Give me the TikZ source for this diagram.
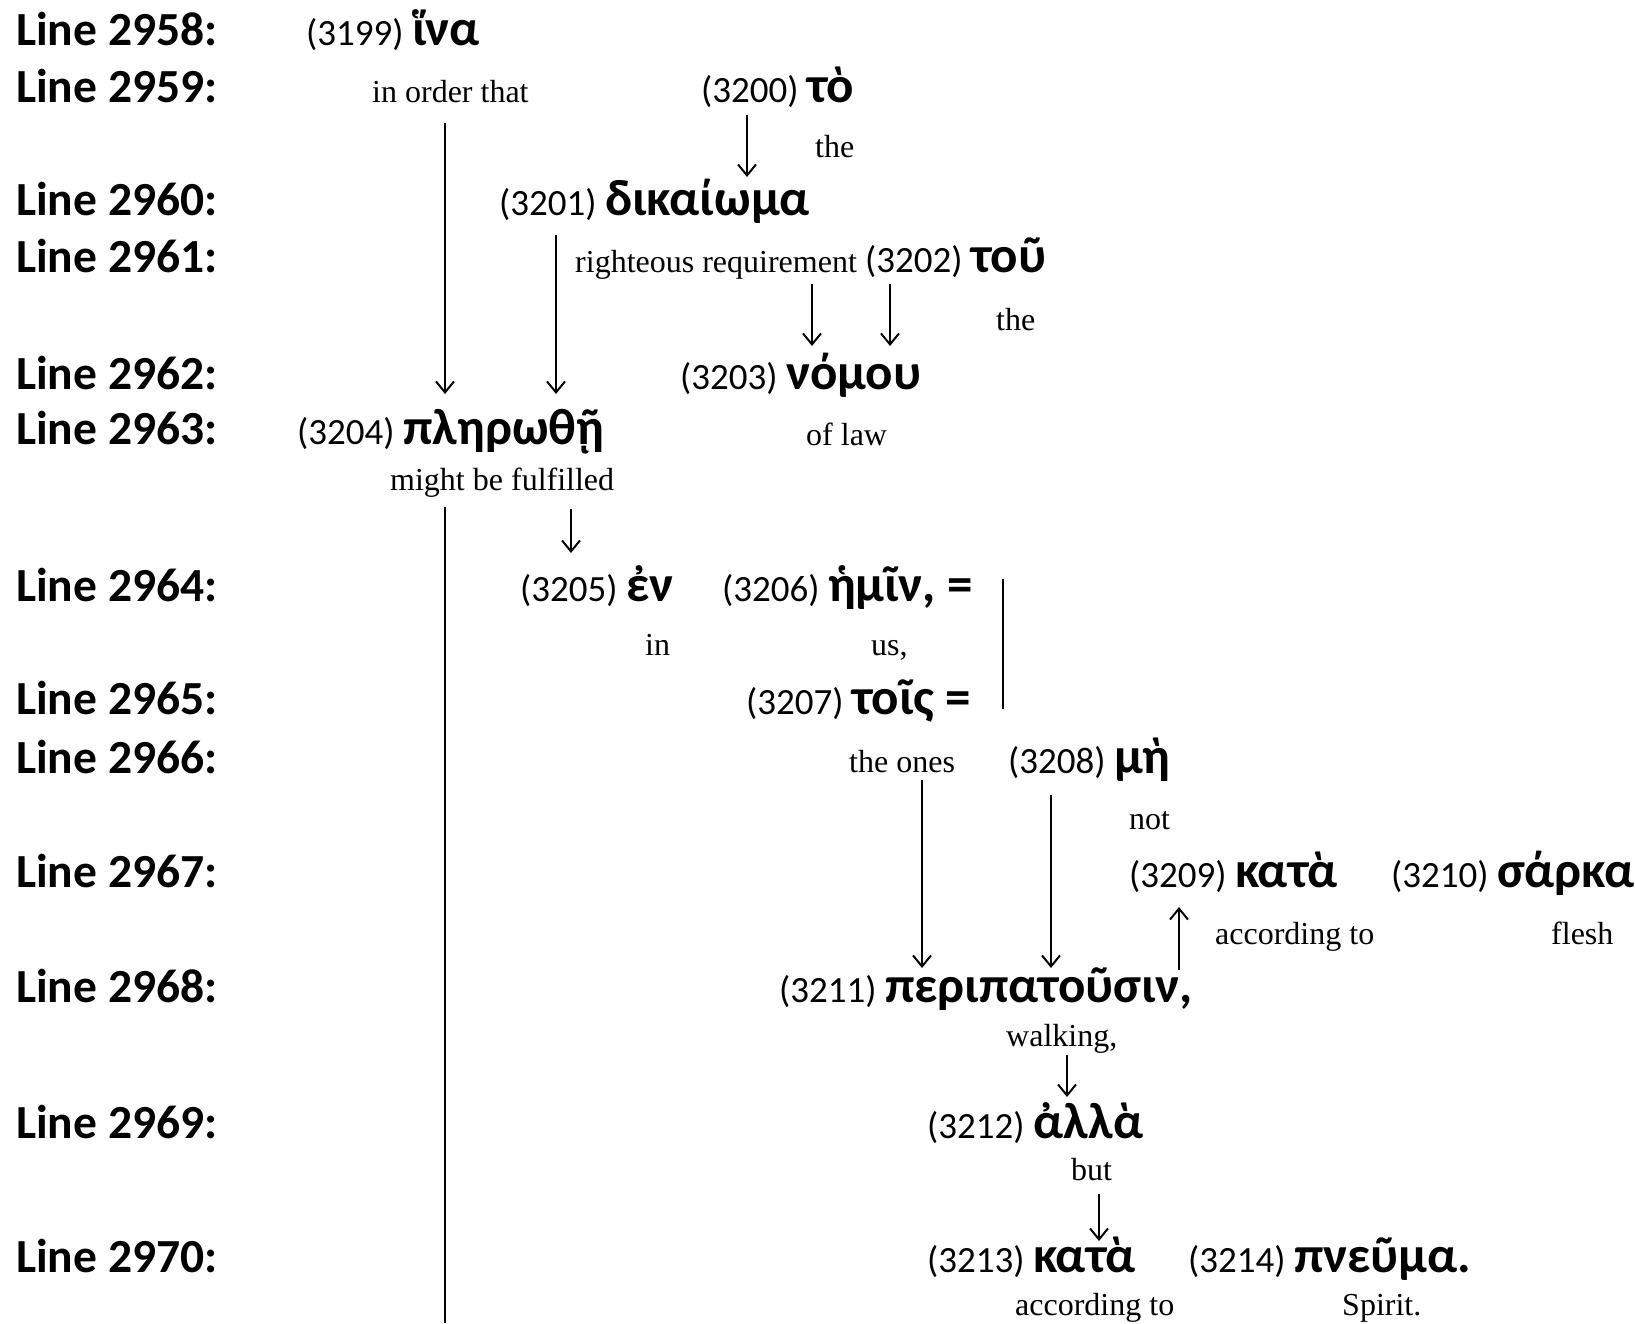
\documentclass[tikz,border=0pt]{standalone}
\usepackage{fontspec}
\setmainfont{Liberation Serif}
\newfontfamily\calib{Carlito}
\usetikzlibrary{arrows.meta}
\newcommand\grkw[1]{{\bfseries\fontsize{51}{54}\selectfont #1}}
\begin{document}
\begin{tikzpicture}[x=1pt,y=-1pt,
  lbl/.style={anchor=base west,inner sep=0pt,font=\calib\bfseries\fontsize{47.5}{50}\selectfont},
  wd/.style={anchor=base west,inner sep=0pt,font=\calib\fontsize{37}{40}\selectfont},
  gl/.style={anchor=base west,inner sep=0pt,font=\fontsize{32}{36}\selectfont},
  arr/.style={line width=2pt,-{Straight Barb[length=11pt,width=18pt,line width=2pt]}},
  ln/.style={line width=2pt}]
\useasboundingbox (0,0) rectangle (1635,1323);
% line labels
\node[lbl] (L1) at (16,45) {Line 2958:};
\node[lbl] (L2) at (16,102) {Line 2959:};
\node[lbl] (L3) at (16,215) {Line 2960:};
\node[lbl] (L4) at (16,272) {Line 2961:};
\node[lbl] (L5) at (16,389) {Line 2962:};
\node[lbl] (L6) at (16,444) {Line 2963:};
\node[lbl] (L7) at (16,601) {Line 2964:};
\node[lbl] (L8) at (16,714) {Line 2965:};
\node[lbl] (L9) at (16,773) {Line 2966:};
\node[lbl] (L10) at (16,887) {Line 2967:};
\node[lbl] (L11) at (16,1002) {Line 2968:};
\node[lbl] (L12) at (16,1138) {Line 2969:};
\node[lbl] (L13) at (16,1272) {Line 2970:};
% words and glosses
\node[wd] (w3199) at (306,45) {(3199) \grkw{ἵνα}};
\node[gl] (g3199) at (372,102) {in order that};
\node[wd] (w3200) at (701,102) {(3200) \grkw{τὸ}};
\node[gl] (g3200) at (815,157) {the};
\node[wd] (w3201) at (499,215) {(3201) \grkw{δικαίωμα}};
\node[gl] (g3201) at (575,272) {righteous requirement};
\node[wd] (w3202) at (865,272) {(3202) \grkw{τοῦ}};
\node[gl] (g3202) at (996,330) {the};
\node[wd] (w3203) at (680,389) {(3203) \grkw{νόμου}};
\node[gl] (g3203) at (806,445) {of law};
\node[wd] (w3204) at (297,444) {(3204) \grkw{πληρωθῇ}};
\node[gl] (g3204) at (390,490) {might be fulfilled};
\node[wd] (w3205) at (520,601) {(3205) \grkw{ἐν}};
\node[gl] (g3205) at (645,655) {in};
\node[wd] (w3206) at (722,601) {(3206) \grkw{ἡμῖν, =}};
\node[gl] (g3206) at (871,655) {us,};
\node[wd] (w3207) at (746,714) {(3207) \grkw{τοῖς =}};
\node[gl] (g3207) at (849,772) {the ones};
\node[wd] (w3208) at (1008,773) {(3208) \grkw{μὴ}};
\node[gl] (g3208) at (1129,829) {not};
\node[wd] (w3209) at (1129,887) {(3209) \grkw{κατὰ}};
\node[gl] (g3209) at (1215,944) {according to};
\node[wd] (w3210) at (1391,887) {(3210) \grkw{σάρκα}};
\node[gl] (g3210) at (1551,944) {flesh};
\node[wd] (w3211) at (779,1002) {(3211) \grkw{περιπατοῦσιν,}};
\node[gl] (g3211) at (1006,1046) {walking,};
\node[wd] (w3212) at (927,1138) {(3212) \grkw{ἀλλὰ}};
\node[gl] (g3212) at (1071,1180) {but};
\node[wd] (w3213) at (927,1272) {(3213) \grkw{κατὰ}};
\node[gl] (g3213) at (1015,1315) {according to};
\node[wd] (w3214) at (1188,1272) {(3214) \grkw{πνεῦμα.}};
\node[gl] (g3214) at (1342,1315) {Spirit.};
% connector ends
\coordinate (a1s) at (445,123);  \coordinate (a1e) at (445,394);
\coordinate (a2s) at (747,115);  \coordinate (a2e) at (747,177);
\coordinate (a3s) at (556,235);  \coordinate (a3e) at (556,394);
\coordinate (a4s) at (812,284);  \coordinate (a4e) at (812,346);
\coordinate (a5s) at (890,284);  \coordinate (a5e) at (890,346);
\coordinate (a6s) at (571,509);  \coordinate (a6e) at (571,553);
\coordinate (l1s) at (445,507);  \coordinate (l1e) at (445,1323);
\coordinate (l2s) at (1003,579); \coordinate (l2e) at (1003,709);
\coordinate (a7s) at (922,780);  \coordinate (a7e) at (922,968);
\coordinate (a8s) at (1051,795); \coordinate (a8e) at (1051,968);
\coordinate (a9s) at (1179,970); \coordinate (a9e) at (1179,907);
\coordinate (a10s) at (1067,1055); \coordinate (a10e) at (1067,1097);
\coordinate (a11s) at (1099,1194); \coordinate (a11e) at (1099,1241);
\draw[arr] (a1s) -- (a1e);
\draw[arr] (a2s) -- (a2e);
\draw[arr] (a3s) -- (a3e);
\draw[arr] (a4s) -- (a4e);
\draw[arr] (a5s) -- (a5e);
\draw[arr] (a6s) -- (a6e);
\draw[ln] (l1s) -- (l1e);
\draw[ln] (l2s) -- (l2e);
\draw[arr] (a7s) -- (a7e);
\draw[arr] (a8s) -- (a8e);
\draw[arr] (a9s) -- (a9e);
\draw[arr] (a10s) -- (a10e);
\draw[arr] (a11s) -- (a11e);
\end{tikzpicture}
\end{document}
